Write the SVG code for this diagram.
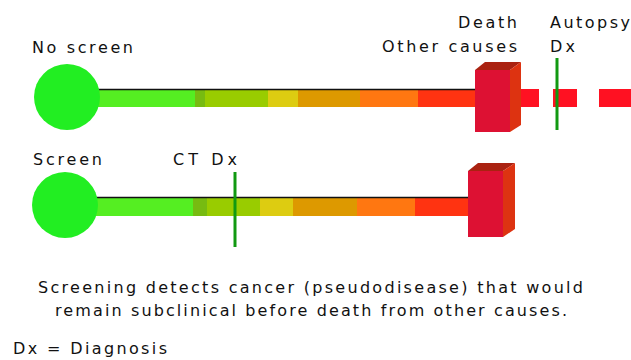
<svg xmlns="http://www.w3.org/2000/svg" width="631" height="360" viewBox="0 0 631 360">
<style>
text{font-family:"DejaVu Sans","Liberation Sans",sans-serif;font-size:16px;fill:#111}
.c{fill:#22ee22}
.g1{fill:#55ee22}.g2{fill:#77bb11}.g3{fill:#99cc00}.y{fill:#ddcc11}.ob{fill:#dd9900}.o{fill:#ff7711}.ro{fill:#ff3311}.rd{fill:#ff1122}
.front{fill:#dd1133}.top{fill:#aa2211}.side{fill:#dd3311}
.edge{stroke:#111;stroke-width:1.5}
.dx{stroke:#119911;stroke-width:3}
</style>
<rect width="631" height="360" fill="#fff"/>
<g id="row-no-screen">
<rect class="g1" x="98" y="89" width="97" height="18"/>
<rect class="g2" x="195" y="89" width="10" height="18"/>
<rect class="g3" x="205" y="89" width="63" height="18"/>
<rect class="y" x="268" y="89" width="30" height="18"/>
<rect class="ob" x="298" y="89" width="62" height="18"/>
<rect class="o" x="360" y="89" width="58" height="18"/>
<rect class="ro" x="418" y="89" width="58" height="18"/>
<line class="edge" x1="98" y1="89.5" x2="476" y2="89.5"/>
<circle class="c" cx="67" cy="97" r="33"/>
<text x="32" y="53" textLength="101">No screen</text>
</g>
<g id="death-box-1">
<rect class="rd" x="519" y="89" width="20" height="18"/>
<rect class="rd" x="553" y="89" width="24" height="18"/>
<rect class="rd" x="599" y="89" width="32" height="18"/>
<polygon class="top" points="475,70 485,62 521,62 510,70"/>
<polygon class="side" points="510,70 521,62 521,125 510,132"/>
<rect class="front" x="475" y="70" width="35" height="62"/>
<text x="517" y="28" text-anchor="end" textLength="59">Death</text>
<text x="517" y="52" text-anchor="end" textLength="135">Other causes</text>
</g>
<g id="autopsy-dx">
<line class="dx" x1="557" y1="58" x2="557" y2="130"/>
<text x="550" y="28" textLength="80">Autopsy</text>
<text x="550" y="52" textLength="25">Dx</text>
</g>
<g id="row-screen">
<rect class="g1" x="96" y="197" width="97" height="19"/>
<rect class="g2" x="193" y="197" width="14" height="19"/>
<rect class="g3" x="207" y="197" width="53" height="19"/>
<rect class="y" x="260" y="197" width="33" height="19"/>
<rect class="ob" x="293" y="197" width="64" height="19"/>
<rect class="o" x="357" y="197" width="58" height="19"/>
<rect class="ro" x="415" y="197" width="54" height="19"/>
<line class="edge" x1="96" y1="197.5" x2="469" y2="197.5"/>
<circle class="c" cx="65" cy="205" r="33"/>
<text x="33" y="165" textLength="69">Screen</text>
</g>
<g id="death-box-2">
<polygon class="top" points="468,171 478,163 515,163 503,171"/>
<polygon class="side" points="503,171 515,163 515,229 503,237"/>
<rect class="front" x="468" y="171" width="35" height="66"/>
</g>
<g id="ct-dx">
<line class="dx" x1="235" y1="172" x2="235" y2="247"/>
<text x="173" y="165" textLength="64">CT Dx</text>
</g>
<g id="caption">
<text x="38" y="293" textLength="545">Screening detects cancer (pseudodisease) that would</text>
<text x="55" y="316" textLength="512">remain subclinical before death from other causes.</text>
<text x="13" y="354" textLength="154">Dx = Diagnosis</text>
</g>
</svg>
